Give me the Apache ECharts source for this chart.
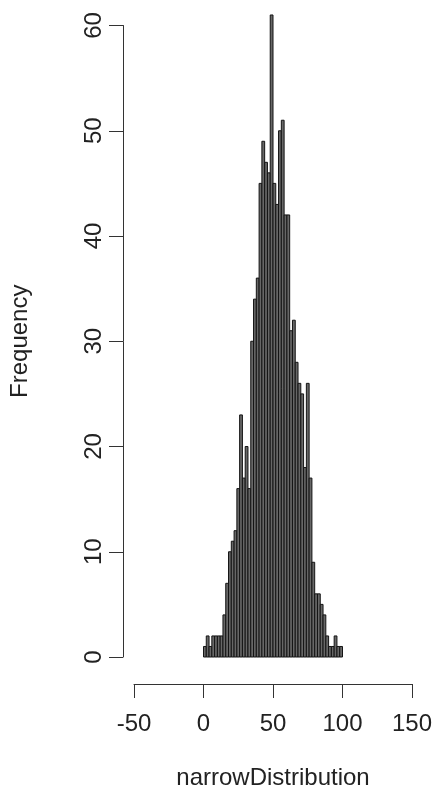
<!DOCTYPE html>
<html>
<head>
<meta charset="utf-8">
<style>
  html, body { margin: 0; padding: 0; background: #fff; }
  #chart { width: 436px; height: 795px; }
</style>
<script src="https://cdn.jsdelivr.net/npm/echarts@6/dist/echarts.min.js"></script>
</head>
<body>
<div id="chart"></div>
<script>
// histogram bins (left edges, width 2) and counts
const binStarts = [0, 2, 4, 6, 8, 10, 12, 14, 16, 18, 20, 22, 24, 26, 28, 30, 32, 34, 36, 38,
    40, 42, 44, 46, 48, 50, 52, 54, 56, 58, 60, 62, 64, 66, 68, 70, 72, 74, 76, 78,
    80, 82, 84, 86, 88, 90, 92, 94, 96, 98];
const binEnds = [2, 4, 6, 8, 10, 12, 14, 16, 18, 20, 22, 24, 26, 28, 30, 32, 34, 36, 38, 40,
    42, 44, 46, 48, 50, 52, 54, 56, 58, 60, 62, 64, 66, 68, 70, 72, 74, 76, 78, 80,
    82, 84, 86, 88, 90, 92, 94, 96, 98, 100];
const counts = [1, 2, 1, 2, 2, 2, 2, 4, 7, 10, 11, 12, 16, 23, 17, 20, 16, 30, 34, 36,
    45, 49, 47, 46, 61, 45, 43, 50, 51, 42, 42, 31, 32, 28, 26, 25, 18, 26, 17, 9,
    6, 6, 5, 4, 2, 1, 1, 2, 1, 1];
const xTicks = [-50, 0, 50, 100, 150];
const yTicks = [0, 10, 20, 30, 40, 50, 60];

const chart = echarts.init(document.getElementById("chart"));

const font = "'Liberation Sans', Arial, Helvetica, sans-serif";
const ink = "#222";

const bins = counts.map((n, i) => [binStarts[i], binEnds[i], n]);

chart.setOption({
    animation: false,
    backgroundColor: "#ffffff",
    grid: {
        left: 132,
        right: 24,
        top: 25.5,
        bottom: 138,
    },
    xAxis: {
        type: "value",
        min: xTicks[0],
        max: xTicks[xTicks.length - 1],
        interval: 50,
        offset: 27,
        name: "narrowDistribution",
        nameLocation: "middle",
        nameGap: 82,
        nameTextStyle: { fontFamily: font, fontSize: 24, color: ink },
        axisLine: { show: true, onZero: false, lineStyle: { color: "#333", width: 1 } },
        axisTick: { show: true, length: 14, lineStyle: { color: "#333" } },
        axisLabel: { margin: 28, fontFamily: font, fontSize: 24, color: ink },
        splitLine: { show: false },
    },
    yAxis: {
        type: "value",
        min: yTicks[0],
        max: yTicks[yTicks.length - 1],
        interval: 10,
        offset: 11,
        name: "Frequency",
        nameLocation: "middle",
        nameGap: 91,
        nameRotate: 90,
        nameTextStyle: { fontFamily: font, fontSize: 24, color: ink },
        axisLine: { show: true, onZero: false, lineStyle: { color: "#333", width: 1 } },
        axisTick: { show: true, length: 14, lineStyle: { color: "#333" } },
        axisLabel: { rotate: 90, margin: 17, fontFamily: font, fontSize: 24, color: ink },
        splitLine: { show: false },
    },
    series: [
        {
            type: "custom",
            clip: false,
            data: bins,
            encode: { x: [0, 1], y: 2 },
            renderItem(params, api) {
                const topLeft = api.coord([api.value(0), api.value(2)]);
                const bottomRight = api.coord([api.value(1), 0]);
                return {
                    type: "rect",
                    shape: {
                        x: topLeft[0],
                        y: topLeft[1],
                        width: bottomRight[0] - topLeft[0],
                        height: bottomRight[1] - topLeft[1],
                    },
                    style: { fill: "#676767", stroke: "#141414", lineWidth: 1 },
                };
            },
        },
    ],
});
</script>
</body>
</html>
